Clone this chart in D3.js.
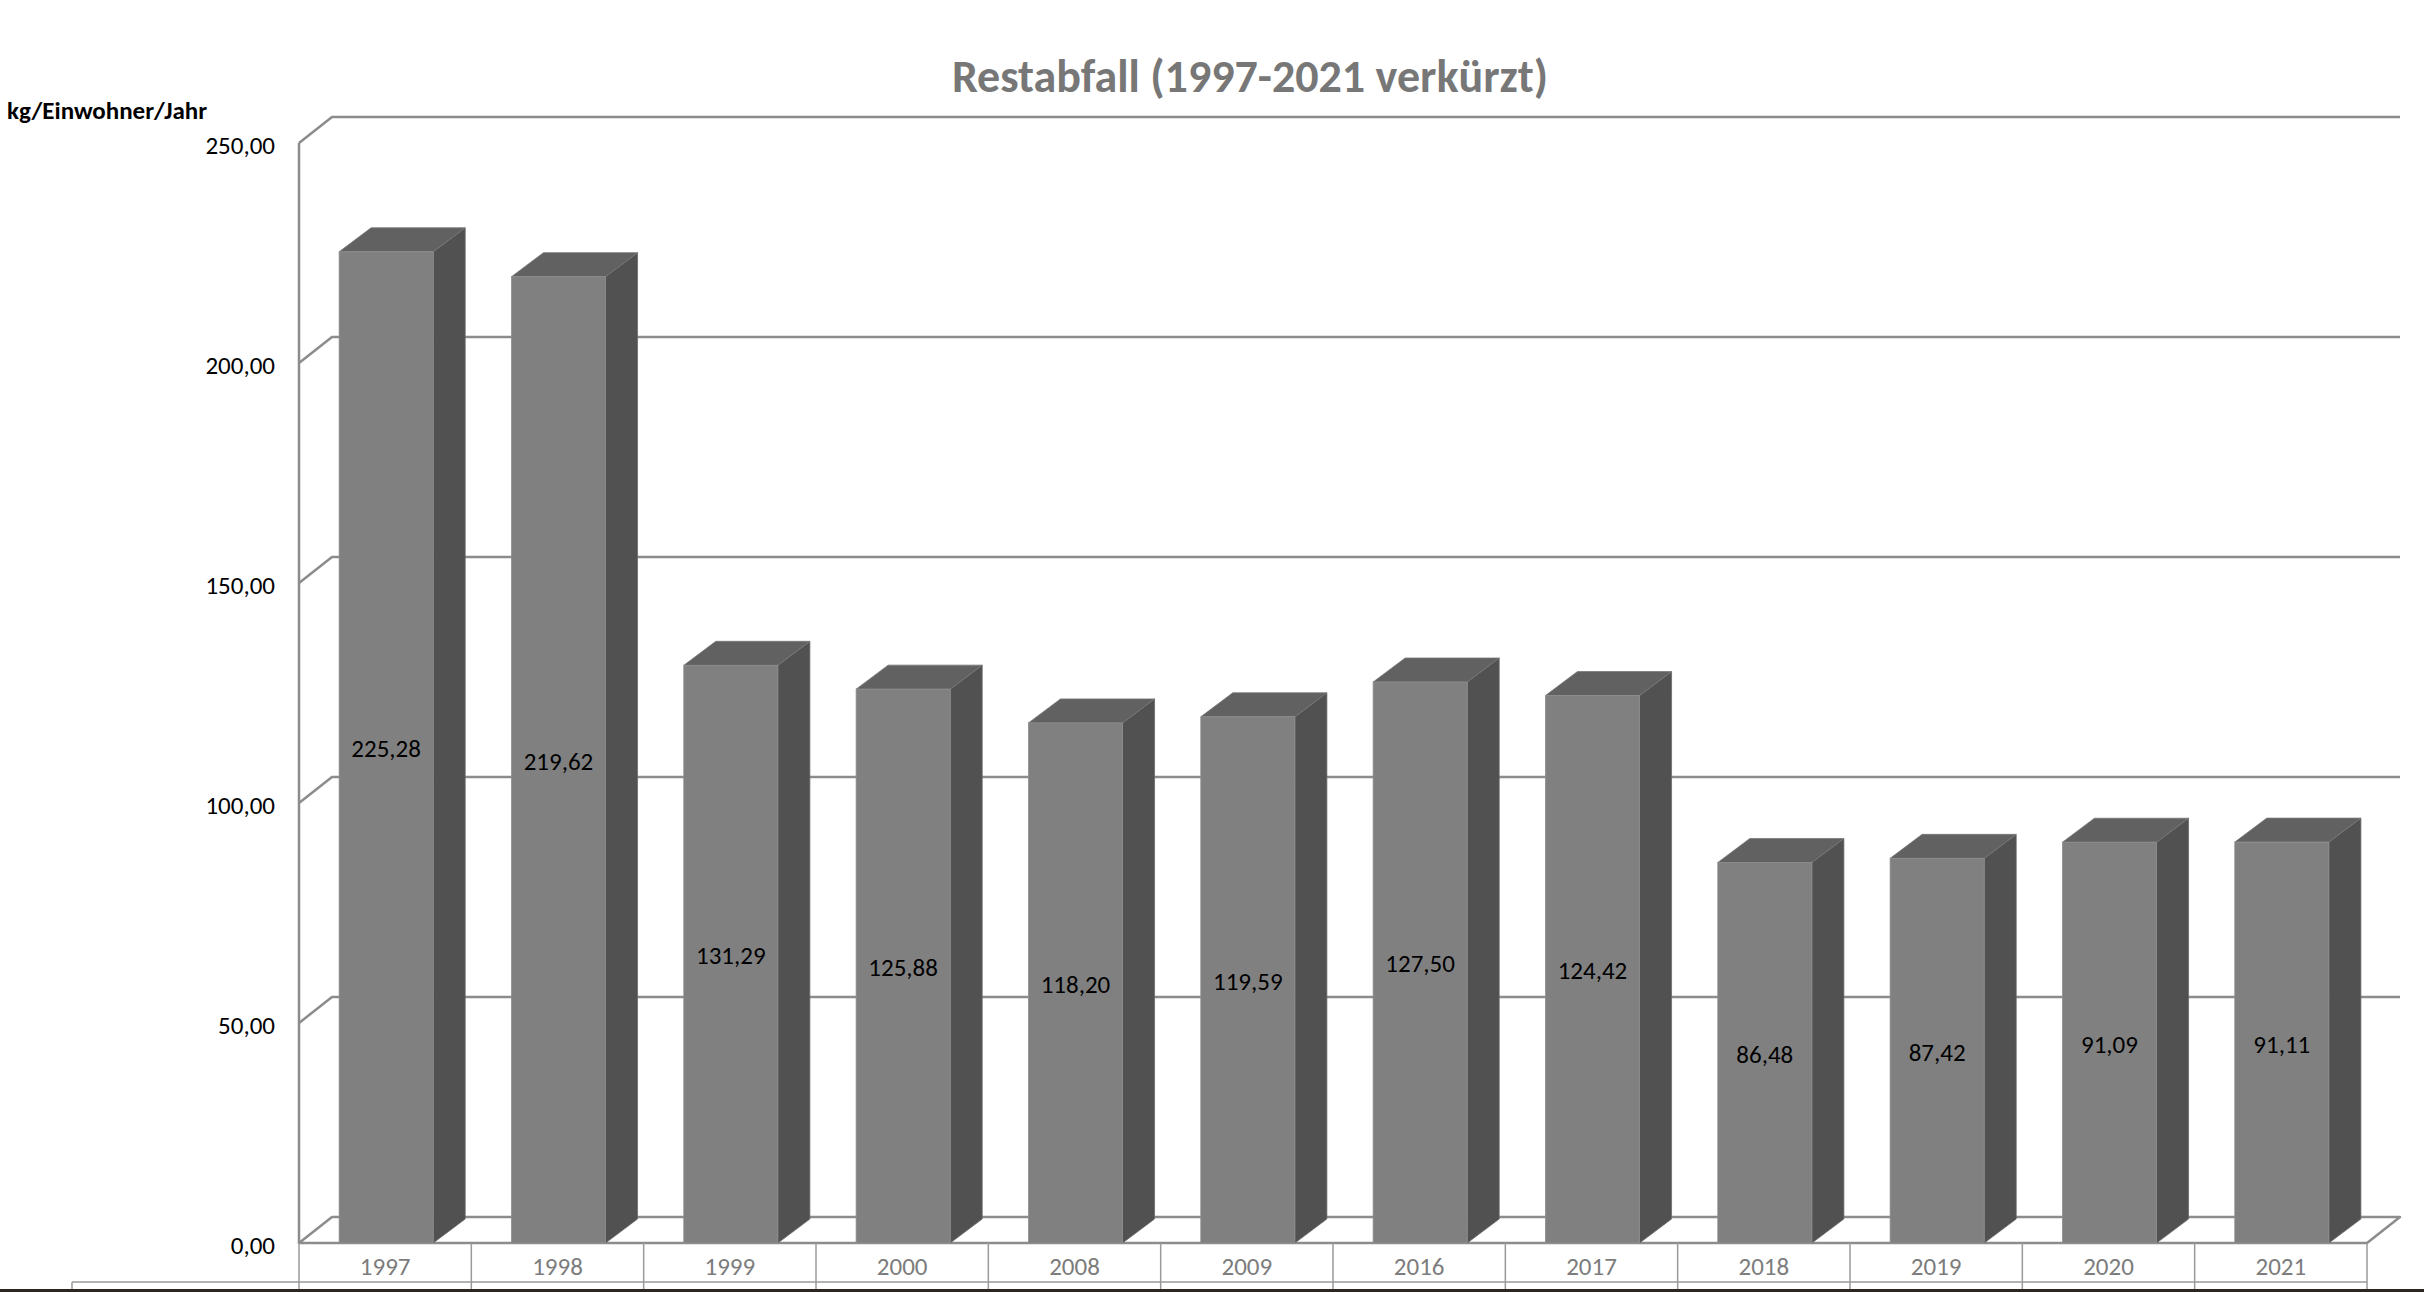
<!DOCTYPE html>
<html>
<head>
<meta charset="utf-8">
<script src="https://cdn.jsdelivr.net/npm/d3@7"></script>
<style>
  html, body { margin: 0; padding: 0; background: #fff; }
  svg { display: block; font-family: Carlito, Calibri, Lato, "Open Sans", sans-serif; }
</style>
</head>
<body>
<svg></svg>
<script>
// Data
const years = ["1997", "1998", "1999", "2000", "2008", "2009", "2016", "2017", "2018", "2019", "2020", "2021"];
const values = [225.28, 219.62, 131.29, 125.88, 118.2, 119.59, 127.5, 124.42, 86.48, 87.42, 91.09, 91.11];
const yTicks = [0, 50, 100, 150, 200, 250];
const title = "Restabfall (1997-2021 verkürzt)";
const yLabel = "kg/Einwohner/Jahr";

const width = 2424;
const height = 1292;
const svg = d3.select("svg").attr("width", width).attr("height", height);

// Configuration
const front = { left: 299, right: 2367, bottom: 1243, top: 143 };
const wall = { dx: 33, dy: -26 }; // offset of the back wall
const depth = { dx: 32, dy: -24 }; // offset of the bar depth
const gridColor = "#8c8c8c";
const labelSize = "25px";

const locale = d3.formatLocale({ decimal: ",", thousands: ".", grouping: [3], currency: ["", "€"] });
const fmt = locale.format(".2f");

// Scales
const xScale = d3.scaleBand().domain(years).range([front.left, front.right]).padding(0);
const yScale = d3.scaleLinear().domain([0, 250]).range([front.bottom, front.top]);
const barWidth = xScale.bandwidth() * 0.546;

// Title
svg
  .append("text")
  .attr("x", 1250)
  .attr("y", 92)
  .attr("text-anchor", "middle")
  .attr("font-size", "46px")
  .attr("font-weight", "bold")
  .attr("fill", "#777777")
  .text(title);

// Y axis label
svg
  .append("text")
  .attr("x", 7)
  .attr("y", 113)
  .attr("dominant-baseline", "middle")
  .attr("font-size", labelSize)
  .attr("font-weight", "bold")
  .attr("fill", "black")
  .text(yLabel);

// Back wall gridlines
const grid = svg.append("g");
grid
  .selectAll("polyline")
  .data(yTicks.filter((t) => t > 0))
  .enter()
  .append("polyline")
  .attr("points", (d) => {
    const y = yScale(d);
    return [
      [front.left, y],
      [front.left + wall.dx, y + wall.dy],
      [front.right + wall.dx, y + wall.dy],
    ].join(" ");
  })
  .attr("fill", "none")
  .attr("stroke", gridColor)
  .attr("stroke-width", 2.5);

// Floor
const y0 = yScale(0);
svg
  .append("polygon")
  .attr("points", [
    [front.left, y0],
    [front.right, y0],
    [front.right + wall.dx, y0 + wall.dy],
    [front.left + wall.dx, y0 + wall.dy],
  ].join(" "))
  .attr("fill", "white")
  .attr("stroke", gridColor)
  .attr("stroke-width", 2.5)
  .attr("stroke-linejoin", "round");

// Front vertical axis line
svg
  .append("line")
  .attr("x1", front.left)
  .attr("x2", front.left)
  .attr("y1", yScale(250))
  .attr("y2", y0)
  .attr("stroke", gridColor)
  .attr("stroke-width", 2.5);

// Tick labels
svg
  .append("g")
  .selectAll("text")
  .data(yTicks)
  .enter()
  .append("text")
  .attr("x", 275)
  .attr("y", (d) => yScale(d) + 5)
  .attr("text-anchor", "end")
  .attr("dominant-baseline", "middle")
  .attr("font-size", labelSize)
  .attr("fill", "black")
  .text((d) => fmt(d));

// 3D bars
svg
  .append("g")
  .selectAll(".bar")
  .data(years.map((y, i) => ({ year: y, value: values[i] })))
  .enter()
  .append("g")
  .attr("class", "bar")
  .each(function (d) {
    const g = d3.select(this);
    const x0 = xScale(d.year) + (xScale.bandwidth() - barWidth) / 2 + 1;
    const x1 = x0 + barWidth;
    const yt = yScale(d.value);

    // side face
    g.append("polygon")
      .attr("points", [
        [x1, y0],
        [x1 + depth.dx, y0 + depth.dy],
        [x1 + depth.dx, yt + depth.dy],
        [x1, yt],
      ].join(" "))
      .attr("fill", "#515151")
      .attr("stroke", "#6a6a6a")
      .attr("stroke-width", 0.8);

    // top face
    g.append("polygon")
      .attr("points", [
        [x0, yt],
        [x1, yt],
        [x1 + depth.dx, yt + depth.dy],
        [x0 + depth.dx, yt + depth.dy],
      ].join(" "))
      .attr("fill", "#616161")
      .attr("stroke", "#777777")
      .attr("stroke-width", 0.8);

    // front face
    g.append("rect")
      .attr("x", x0)
      .attr("y", yt)
      .attr("width", barWidth)
      .attr("height", y0 - yt)
      .attr("fill", "#808080")
      .attr("stroke", "#8e8e8e")
      .attr("stroke-width", 0.8);

    // value label
    g.append("text")
      .attr("x", x0 + barWidth / 2)
      .attr("y", (yt + y0) / 2 + 4)
      .attr("text-anchor", "middle")
      .attr("dominant-baseline", "middle")
      .attr("font-size", labelSize)
      .attr("fill", "black")
      .text(fmt(d.value));
  });

// Category table below the floor
const table = svg.append("g");
table
  .append("line")
  .attr("x1", 72)
  .attr("x2", front.right)
  .attr("y1", 1282)
  .attr("y2", 1282)
  .attr("stroke", "#9a9a9a")
  .attr("stroke-width", 1.5);

table
  .selectAll(".sep")
  .data(years.map((y) => xScale(y)).concat([front.right]))
  .enter()
  .append("line")
  .attr("class", "sep")
  .attr("x1", (d) => d)
  .attr("x2", (d) => d)
  .attr("y1", y0)
  .attr("y2", height)
  .attr("stroke", "#9a9a9a")
  .attr("stroke-width", 1.5);

table
  .append("line")
  .attr("x1", 72)
  .attr("x2", 72)
  .attr("y1", 1282)
  .attr("y2", height)
  .attr("stroke", "#9a9a9a")
  .attr("stroke-width", 1.5);

table
  .selectAll(".year")
  .data(years)
  .enter()
  .append("text")
  .attr("class", "year")
  .attr("x", (d) => xScale(d) + xScale.bandwidth() / 2)
  .attr("y", 1269)
  .attr("text-anchor", "middle")
  .attr("dominant-baseline", "middle")
  .attr("font-size", labelSize)
  .attr("fill", "#7c7c7c")
  .text((d) => d);

// dark strip at the very bottom
svg
  .append("rect")
  .attr("x", 0)
  .attr("y", 1289)
  .attr("width", width)
  .attr("height", 3)
  .attr("fill", "#2b2620");
</script>
</body>
</html>
